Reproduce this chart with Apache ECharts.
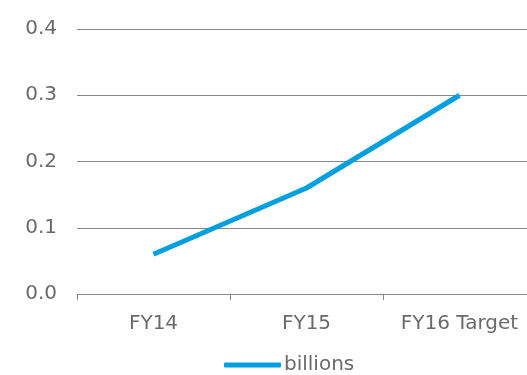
<!DOCTYPE html>
<html>
<head>
<meta charset="utf-8">
<script src="https://cdn.jsdelivr.net/npm/echarts@6/dist/echarts.min.js"></script>
<style>html,body{margin:0;padding:0;background:#fff;overflow:hidden}#c{width:536px;height:375px}</style>
</head>
<body>
<div id="c"></div>
<script>
const categories = ['FY14', 'FY15', 'FY16 Target'];
const billions = [0.06, 0.16, 0.30];
const yTicks = { min: 0, max: 0.4, interval: 0.1 };

const chart = echarts.init(document.getElementById('c'));
const grey = '#6a6a6a';
const font = 'DejaVu Sans, Verdana, sans-serif';
chart.setOption({
  animation: false,
  grid: { left: 77, right: 0, top: 29, bottom: 81 },
  legend: {
    top: 350, left: 219,
    data: ['billions'],
    itemWidth: 57, itemHeight: 5, itemGap: 4,
    icon: 'roundRect',
    textStyle: { color: grey, fontSize: 20, fontFamily: font, padding: [0, 0, 0, -2] }
  },
  xAxis: {
    type: 'category',
    data: categories,
    boundaryGap: true,
    axisLine: { lineStyle: { color: '#888', width: 1 } },
    axisTick: { show: true, length: 6, lineStyle: { color: '#888' } },
    axisLabel: { color: grey, fontSize: 20, fontFamily: font, margin: 20 }
  },
  yAxis: {
    type: 'value',
    min: yTicks.min, max: yTicks.max, interval: yTicks.interval,
    axisLine: { show: false },
    axisTick: { show: false },
    splitLine: { lineStyle: { color: '#888', width: 1 } },
    axisLabel: { color: grey, fontSize: 20, fontFamily: font, margin: 20,
      padding: [2, 0, 0, 0],
      formatter: v => v.toFixed(1) }
  },
  series: [{
    name: 'billions',
    type: 'line',
    data: billions,
    symbol: 'none',
    lineStyle: { color: '#00A0E0', width: 5 },
    itemStyle: { color: '#00A0E0' }
  }]
});
</script>
</body>
</html>
